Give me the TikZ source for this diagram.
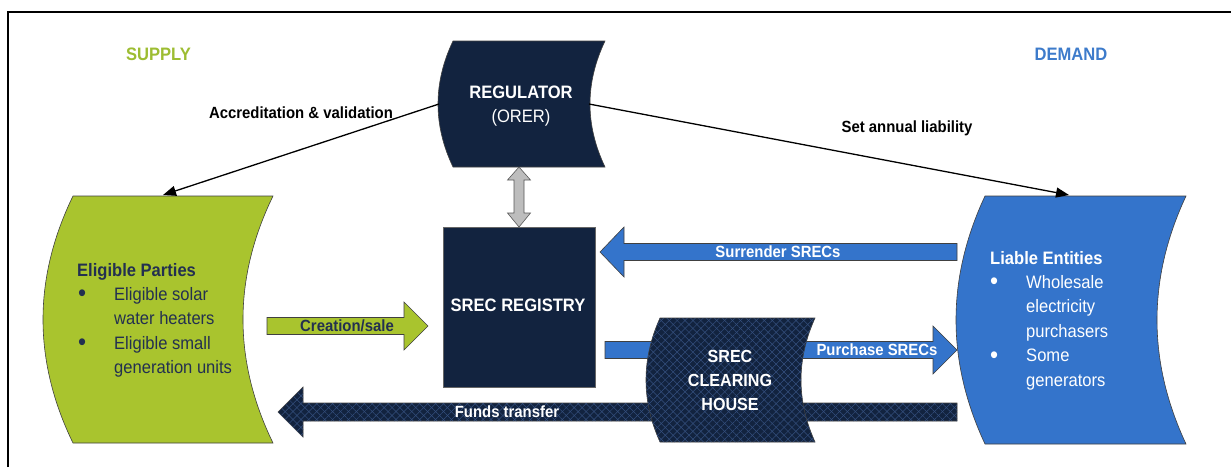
\documentclass[tikz,border=0pt]{standalone}
\usepackage{fontspec}
\setmainfont{Liberation Sans}[FakeStretch=0.92]
\usetikzlibrary{arrows.meta,patterns.meta}

\definecolor{navy}{HTML}{12233F}
\definecolor{hatchc}{HTML}{35507F}
\definecolor{leaf}{HTML}{A9C42E}
\definecolor{leaftext}{HTML}{9DBD32}
\definecolor{sky}{HTML}{3474CB}
\definecolor{skytext}{HTML}{3D7BCB}
\definecolor{ink}{HTML}{233050}
\definecolor{greyarrow}{HTML}{BDBDBD}

% sheet with straight top/bottom and both sides bowed to the left
\newcommand\bowedsheet[6]{% style, x-left, x-right, y-top, y-bottom, bow
  \path[#1] (#2,#4) -- (#3,#4)
    .. controls ({#3-4*#6/3},{#4+(#5-#4)/3}) and ({#3-4*#6/3},{#5-(#5-#4)/3}) .. (#3,#5)
    -- (#2,#5)
    .. controls ({#2-4*#6/3},{#5-(#5-#4)/3}) and ({#2-4*#6/3},{#4+(#5-#4)/3}) .. (#2,#4)
    -- cycle;}

% horizontal block arrow
\newcommand\blockarrow[7]{% style, x-tail, x-head-back, x-tip, y-centre, shaft half, head half
  \path[#1] (#2,{#5-#6}) -- (#3,{#5-#6}) -- (#3,{#5-#7}) -- (#4,#5)
    -- (#3,{#5+#7}) -- (#3,{#5+#6}) -- (#2,{#5+#6}) -- cycle;}

% list bullet, a little larger than the text's own
\newcommand\listdot{\raisebox{-1.5pt}{\fontsize{25}{25}\selectfont\textbullet}}

\tikzset{
  body/.style={font=\fontsize{18}{24.4}\selectfont},
  lbl/.style={font=\fontsize{16.2}{20}\selectfont\bfseries, inner sep=0pt, anchor=base},
  outline/.style={draw=black!75, line width=0.6pt},
  hatched/.style={fill=navy,
    postaction={pattern={Lines[angle=45,distance=5.6pt,line width=0.5pt]}, pattern color=hatchc},
    postaction={pattern={Lines[angle=-45,distance=5.6pt,line width=0.5pt]}, pattern color=hatchc}},
  link/.style={line width=1.3pt, -{Triangle[length=13pt,width=10pt]}},
}

\begin{document}
\begin{tikzpicture}[x=1pt,y=-1pt]
\useasboundingbox (0,0) rectangle (1231,467);
\fill[white] (0,0) rectangle (1231,467);

% frame
\draw[line width=2pt] (8,467) -- (8,12) -- (1231,12);

% column headings
\node[body, font=\fontsize{18}{20}\selectfont\bfseries, text=leaftext, inner sep=0pt, anchor=base] (supply) at (158.5,60) {SUPPLY};
\node[body, font=\fontsize{18}{20}\selectfont\bfseries, text=skytext, inner sep=0pt, anchor=base] (demand) at (1071,60) {DEMAND};

% regulator
\bowedsheet{fill=navy, outline}{453}{605}{41}{167}{15}
\node[body, text=white, inner sep=0pt, anchor=base] (reg) at (521,98)
  {\begin{tabular}[t]{@{}c@{}}\bfseries REGULATOR\\ (ORER)\end{tabular}};
\coordinate (regW) at (439,104);
\coordinate (regE) at (589,104);
\coordinate (regS) at (519,167);

% eligible parties
\bowedsheet{fill=leaf, outline}{73}{273}{196}{443}{30}
\coordinate (eligN) at (163,195);
\node[body, text=ink, inner sep=0pt, anchor=base west] (elig) at (77,276)
  {\begin{tabular}[t]{@{}p{37pt}@{}l@{}}
    \multicolumn{2}{@{}l@{}}{\bfseries Eligible Parties}\\
    \hspace{1pt}\listdot & Eligible solar\\
    & water heaters\\
    \hspace{1pt}\listdot & Eligible small\\
    & generation units
  \end{tabular}};

% liable entities
\bowedsheet{fill=sky, outline}{985}{1186}{196}{444}{29}
\coordinate (liabN) at (1069,195);
\node[body, text=white, inner sep=0pt, anchor=base west] (liab) at (990,264)
  {\begin{tabular}[t]{@{}p{36pt}@{}l@{}}
    \multicolumn{2}{@{}l@{}}{\bfseries Liable Entities}\\
    \listdot & Wholesale\\
    & electricity\\
    & purchasers\\
    \listdot & Some\\
    & generators
  \end{tabular}};

% registry
\path[fill=navy, draw=black!60, line width=0.6pt] (443,227) rectangle (595,387);
\node[body, font=\fontsize{18}{20}\selectfont\bfseries, text=white, inner sep=0pt, anchor=base] (registry) at (518,311) {SREC REGISTRY};
\coordinate (regyN) at (519,227);

% two-way link regulator <-> registry
\path[fill=greyarrow, draw=black!65, line width=0.6pt]
  (regS) -- ++(11.5,13) -- ++(-6.5,0) -- ++(0,33) -- ++(6.5,0) -- (regyN)
  -- ++(-11.5,-14) -- ++(6.5,0) -- ++(0,-33) -- ++(-6.5,0) -- cycle;

% flows
\blockarrow{fill=leaf, outline}{267}{404}{428}{326}{8.5}{24}
\node[lbl, text=ink] (create) at (347,331) {Creation/sale};

\blockarrow{fill=sky, outline}{957}{624}{600}{252}{8.5}{25}
\node[lbl, text=white] (surrender) at (778,257) {Surrender SRECs};

\blockarrow{hatched, outline}{957}{303}{278}{412}{9}{25}
\node[lbl, text=white] (funds) at (507,417) {Funds transfer};

\blockarrow{fill=sky, outline}{605}{933}{957}{350}{8.5}{24}
\node[lbl, text=white] (purchase) at (877,355) {Purchase SRECs};

% clearing house on top of the two lower flows
\bowedsheet{hatched, outline}{660}{815}{318}{442}{14}
\node[body, font=\fontsize{17.5}{24}\selectfont\bfseries, text=white, inner sep=0pt, anchor=base] (clear) at (730,362)
  {\begin{tabular}[t]{@{}c@{}}SREC\\ CLEARING\\ HOUSE\end{tabular}};

% regulator links
\draw[link] (regW) -- (eligN);
\draw[link] (regE) -- (liabN);
\node[lbl, text=black] (accr) at (301,118) {Accreditation \& validation};
\node[lbl, text=black] (liability) at (907,132) {Set annual liability};
\end{tikzpicture}
\end{document}
